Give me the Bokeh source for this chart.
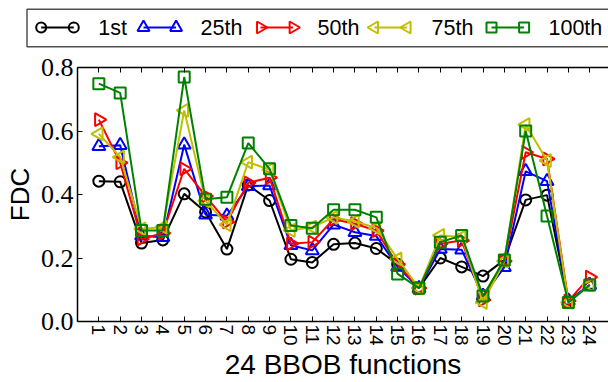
import math
from bokeh.plotting import figure
from bokeh.models import Range1d, FixedTicker, LinearAxis, PrintfTickFormatter
from bokeh.core.properties import value
from bokeh.embed import file_html
from bokeh.resources import INLINE

# ---- data ----
functions = list(range(1, 25))
series_names = ["1st", "25th", "50th", "75th", "100th"]
fdc_1st = [0.442, 0.440, 0.247, 0.257, 0.402, 0.345, 0.228, 0.430, 0.381, 0.196, 0.186, 0.243,
           0.247, 0.230, 0.180, 0.105, 0.200, 0.172, 0.143, 0.194, 0.383, 0.398, 0.065, 0.115]
fdc_25th = [0.552, 0.555, 0.270, 0.265, 0.557, 0.336, 0.333, 0.426, 0.428, 0.240, 0.224, 0.305,
            0.281, 0.269, 0.172, 0.105, 0.228, 0.226, 0.080, 0.171, 0.473, 0.442, 0.065, 0.115]
fdc_50th = [0.636, 0.500, 0.260, 0.278, 0.481, 0.395, 0.314, 0.437, 0.453, 0.245, 0.250, 0.322,
            0.308, 0.286, 0.180, 0.105, 0.245, 0.255, 0.068, 0.190, 0.533, 0.512, 0.065, 0.140]
fdc_75th = [0.591, 0.518, 0.292, 0.297, 0.665, 0.380, 0.305, 0.502, 0.478, 0.287, 0.297, 0.328,
            0.315, 0.295, 0.197, 0.105, 0.271, 0.266, 0.060, 0.190, 0.620, 0.507, 0.060, 0.115]
fdc_100th = [0.749, 0.720, 0.287, 0.287, 0.770, 0.385, 0.391, 0.562, 0.481, 0.302, 0.294, 0.352,
             0.352, 0.328, 0.150, 0.105, 0.250, 0.271, 0.080, 0.194, 0.600, 0.332, 0.060, 0.115]
y_ticks = [0.0, 0.2, 0.4, 0.6, 0.8]

series = [fdc_1st, fdc_25th, fdc_50th, fdc_75th, fdc_100th]

# ---- styles ----
colors = ["#000000", "#0000ff", "#ff0000", "#bfbf00", "#008000"]
markers = ["circle", "triangle", "triangle", "triangle", "square"]
angles = [0, 0, -math.pi / 2, math.pi / 2, 0]
sizes = [11, 13, 13, 13, 11]
SANS = "Liberation Sans"
SERIF = "Liberation Serif"

# ---- legend strip (own root, page pixel coordinates) ----
leg = figure(width=608, height=52, output_backend="svg", toolbar_location=None,
             x_range=Range1d(0, 608), y_range=Range1d(52, 0),
             x_axis_type=None, y_axis_type=None, min_border=0)
leg.outline_line_color = None
leg.grid.visible = False
leg.quad(left=[26.5], right=[640], top=[8.8], bottom=[46.2], fill_color=None,
         line_color="#505050", line_width=1.5)
leg_x = [40.7, 143.0, 260.0, 374.0, 491.0]
leg_y = 27.0
gap = 32.6
for name, c, m, a, s, x0 in zip(series_names, colors, markers, angles, sizes, leg_x):
    leg.line([x0, x0 + gap], [leg_y, leg_y], line_color=c, line_width=2)
    leg.scatter([x0, x0 + gap], [leg_y, leg_y], marker=m, angle=a, size=s - 1,
                line_color=c, line_width=2, fill_color=None)
    leg.text([x0 + 57], [leg_y], text=[name], text_font=value(SANS),
             text_font_size="21.5px", text_baseline="middle", text_align="left",
             text_color="black")

# ---- main plot ----
p = figure(width=608, height=330, output_backend="svg", toolbar_location=None,
           x_range=Range1d(0, 24.88), y_range=Range1d(0, 0.8),
           min_border_left=77, min_border_right=0, min_border_top=15, min_border_bottom=60)
p.outline_line_color = None
p.grid.visible = False
p.background_fill_color = "white"

for vals, c, m, a, s in zip(series, colors, markers, angles, sizes):
    p.line(functions, vals, line_color=c, line_width=2)
    p.scatter(functions, vals, marker=m, angle=a, size=s, line_color=c, line_width=2,
              fill_color=None)

xa = p.xaxis[0]
xa.ticker = FixedTicker(ticks=functions)
xa.major_label_orientation = "vertical"
xa.major_label_text_font = SANS
xa.major_label_text_font_size = "19px"
xa.major_label_text_color = "black"
xa.major_label_standoff = 3
xa.axis_label = "24 BBOB functions"
xa.axis_label_text_font = SANS
xa.axis_label_text_font_size = "28px"
xa.axis_label_text_font_style = "normal"
xa.axis_label_text_color = "black"
xa.axis_label_standoff = 0
xa.major_tick_in = 5
xa.major_tick_out = 0
xa.minor_tick_in = 0
xa.minor_tick_out = 0
xa.axis_line_width = 1.5

ya = p.yaxis[0]
ya.ticker = FixedTicker(ticks=y_ticks)
ya.formatter = PrintfTickFormatter(format="%.1f")
ya.major_label_text_font = SERIF
ya.major_label_text_font_size = "26px"
ya.major_label_text_color = "black"
ya.major_label_standoff = 4
ya.axis_label = "FDC"
ya.axis_label_text_font = SANS
ya.axis_label_text_font_size = "26px"
ya.axis_label_text_font_style = "normal"
ya.axis_label_text_color = "black"
ya.axis_label_standoff = 3
ya.major_tick_in = 5
ya.major_tick_out = 0
ya.minor_tick_in = 0
ya.minor_tick_out = 0
ya.axis_line_width = 1.5

top = LinearAxis(ticker=FixedTicker(ticks=functions), major_label_text_font_size="0px",
                 major_tick_in=5, major_tick_out=0, minor_tick_in=0, minor_tick_out=0,
                 major_label_standoff=0, axis_line_width=1.5)
p.add_layout(top, "above")

open("out.html", "w").write(file_html([leg, p], INLINE))
